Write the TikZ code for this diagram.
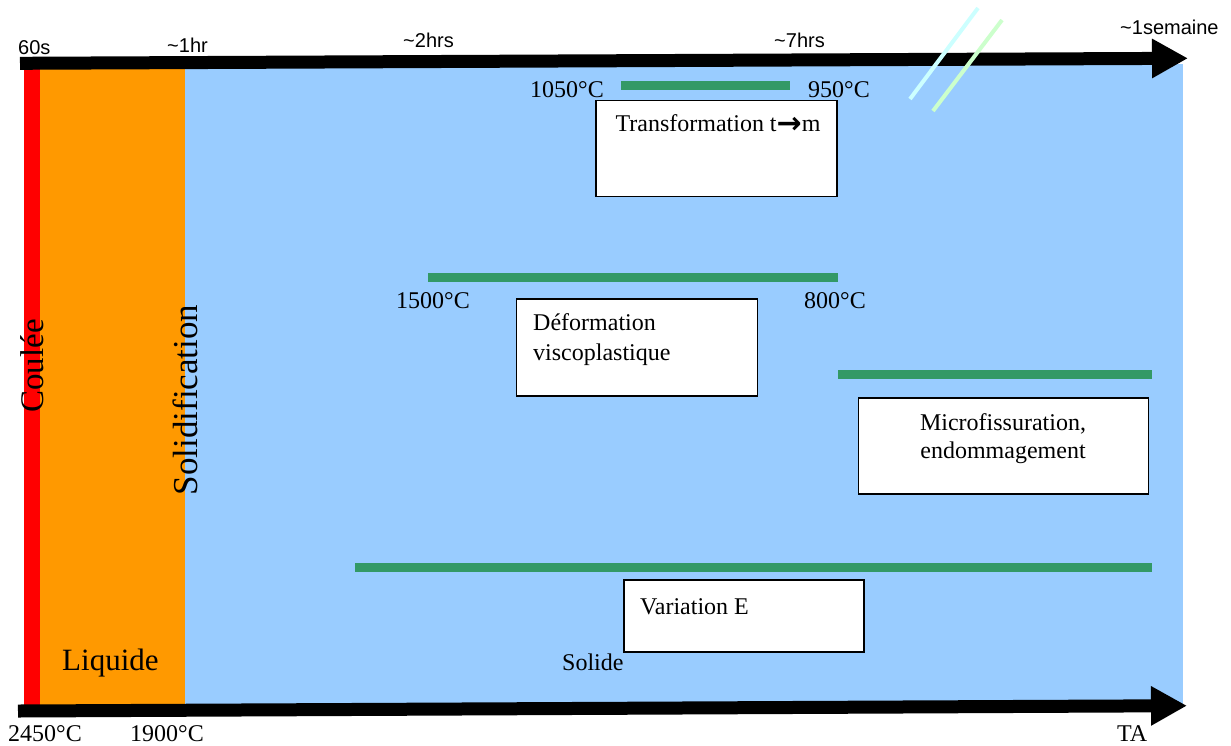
\documentclass[tikz,border=0pt]{standalone}
\usepackage{fontspec}
\setmainfont{Liberation Serif}
\setsansfont{Liberation Sans}
\newfontfamily\arrowfont{DejaVu Sans}
\usetikzlibrary{arrows.meta}
\definecolor{redC}{HTML}{FF0000}
\definecolor{orangeC}{HTML}{FF9900}
\definecolor{blueC}{HTML}{99CCFF}
\definecolor{greenC}{HTML}{339966}
\definecolor{cyanL}{HTML}{CCFFFF}
\definecolor{greenL}{HTML}{CCFFCC}
\tikzset{
  axis/.style={line width=13pt, line cap=butt, -{Triangle[length=36pt,width=37pt]}},
  gbar/.style={line width=9pt, greenC, line cap=butt},
  box/.style={draw=black, fill=white, line width=1.5pt, inner sep=0pt},
  lbl/.style={inner sep=0pt, font=\fontsize{24}{30}\selectfont},
  slbl/.style={inner sep=0pt, font=\sffamily\fontsize{20}{24}\selectfont},
  big/.style={inner sep=0pt, font=\fontsize{33}{40}\selectfont},
}
\begin{document}
\begin{tikzpicture}[x=1pt,y=-1pt]
\useasboundingbox (0,0) rectangle (1231,745);
% coloured zones
\fill[redC] (24,66) rectangle (40,706);
\fill[orangeC] (40,66) rectangle (185,706);
\fill[blueC] (185,64) rectangle (1183,704);
% axes
\coordinate (t0) at (20,63.3);
\coordinate (t1) at (1188,58.3);
\coordinate (b0) at (18,711);
\coordinate (b1) at (1187,705.7);
\draw[axis] (t0) -- (t1);
\draw[axis] (b0) -- (b1);
% break marks
\coordinate (c0) at (910,99);
\coordinate (c1) at (978,8);
\coordinate (d0) at (933,111);
\coordinate (d1) at (1002,20);
\draw[cyanL, line width=4pt] (c0) -- (c1);
\draw[greenL, line width=4pt] (d0) -- (d1);
% green bars
\coordinate (g1a) at (621,85); \coordinate (g1b) at (790,85);
\coordinate (g2a) at (428,277.5); \coordinate (g2b) at (838,277.5);
\coordinate (g3a) at (838,374); \coordinate (g3b) at (1152,374);
\coordinate (g4a) at (355,567); \coordinate (g4b) at (1152,567);
\draw[gbar] (g1a) -- (g1b);
\draw[gbar] (g2a) -- (g2b);
\draw[gbar] (g3a) -- (g3b);
\draw[gbar] (g4a) -- (g4b);
% boxes
\node[box, minimum width=241pt, minimum height=96pt] (box1) at (716.5,148.3) {};
\node[box, minimum width=241pt, minimum height=97pt] (box2) at (636.8,347.6) {};
\node[box, minimum width=290pt, minimum height=96pt] (box3) at (1003.3,445.8) {};
\node[box, minimum width=240pt, minimum height=72pt] (box4) at (744,616) {};
% box texts
\node[lbl, anchor=base] (tx1) at (718,131.7) {Transformation t{\arrowfont\bfseries\fontsize{30}{30}\selectfont\raisebox{-1.5pt}{→}}m};
\node[lbl, anchor=base west] (tx2a) at (533,330) {Déformation};
\node[lbl, anchor=base west] (tx2b) at (533,360) {viscoplastique};
\node[lbl, anchor=base] (tx3a) at (1003,430) {Microfissuration,};
\node[lbl, anchor=base] (tx3b) at (1003,458) {endommagement};
\node[lbl, anchor=base west] (tx4) at (640,614) {Variation E};
% temperature labels
\node[lbl, anchor=base west] (l1050) at (530,97) {1050°C};
\node[lbl, anchor=base west] (l950) at (808,97) {950°C};
\node[lbl, anchor=base west] (l1500) at (396,308) {1500°C};
\node[lbl, anchor=base west] (l800) at (804,308) {800°C};
\node[lbl, anchor=base west] (lsol) at (562,670) {Solide};
\node[lbl, anchor=base west] (l2450) at (8,741) {2450°C};
\node[lbl, anchor=base west] (l1900) at (130,741) {1900°C};
\node[lbl, anchor=base west] (lta) at (1117,741) {TA};
% time labels
\node[slbl, anchor=base west] (s60) at (18,54) {60s};
\node[slbl, anchor=base west] (s1h) at (167,52) {\textasciitilde 1hr};
\node[slbl, anchor=base west] (s2h) at (403,47) {\textasciitilde 2hrs};
\node[slbl, anchor=base west] (s7h) at (774,47) {\textasciitilde 7hrs};
\node[slbl, anchor=base west] (s1w) at (1120,34.5) {\textasciitilde 1semaine};
% zone labels
\node[big, anchor=base west] (liq) at (62,670) {\fontsize{31}{36}\selectfont Liquide};
\node[big, anchor=base, rotate=90] (cou) at (43,366) {Coulée};
\node[big, anchor=base, rotate=90] (soli) at (197,400) {\fontsize{35}{40}\selectfont Solidification};
\end{tikzpicture}
\end{document}
